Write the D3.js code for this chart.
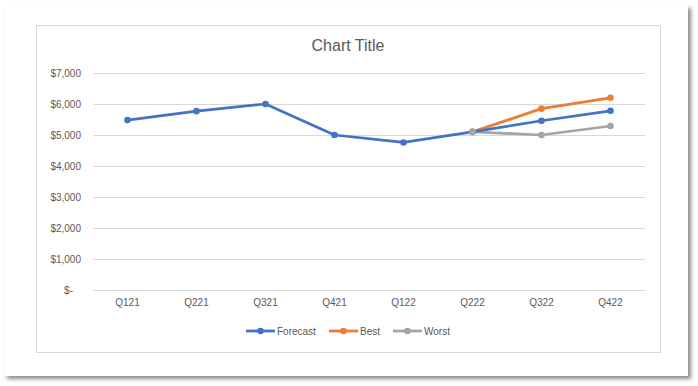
<!DOCTYPE html>
<html>
<head>
<meta charset="utf-8">
<script src="https://cdn.jsdelivr.net/npm/d3@7"></script>
<style>
  body { margin: 0; background: #fff; }
  #card {
    position: absolute; left: 4px; top: 5px; width: 684px; height: 371px;
    background: #fff; box-shadow: 3px 3px 4px rgba(0,0,0,0.45);
  }
  svg { position: absolute; left: 0; top: 0; font-family: "Liberation Sans", Arial, sans-serif; }
</style>
</head>
<body>
<div id="card"></div>
<svg id="chart" width="698" height="386"></svg>
<script>
var quarters = ['Q121', 'Q221', 'Q321', 'Q421', 'Q122', 'Q222', 'Q322', 'Q422'];
var forecast = [5480, 5770, 6000, 5000, 4760, 5100, 5460, 5780];
var best = [null, null, null, null, null, 5100, 5850, 6200];
var worst = [null, null, null, null, null, 5100, 5000, 5290];
var yTicks = [0, 1000, 2000, 3000, 4000, 5000, 6000, 7000];

var series = [
  { name: 'Forecast', values: forecast, color: '#4472c4' },
  { name: 'Best', values: best, color: '#ed7d31' },
  { name: 'Worst', values: worst, color: '#a5a5a5' }
];

var plotLeft = 93, plotRight = 645, plotTop = 73, plotBottom = 290;
var svg = d3.select('#chart');

// inner chart border
svg.append('rect')
  .attr('x', 36.5).attr('y', 25.5)
  .attr('width', 624).attr('height', 327)
  .attr('fill', 'none').attr('stroke', '#d9d9d9');

var xScale = d3.scaleBand().domain(quarters).range([plotLeft, plotRight]);
var yScale = d3.scaleLinear().domain([0, 7000]).range([plotBottom, plotTop]);

var fmt = function(v) { return v === 0 ? '$-' : '$' + d3.format(',')(v); };

var yAxis = d3.axisLeft(yScale)
  .tickValues(yTicks)
  .tickSize(-(plotRight - plotLeft))
  .tickFormat(fmt);

var gy = svg.append('g')
  .attr('transform', 'translate(' + plotLeft + ',0)')
  .call(yAxis);
gy.select('.domain').remove();
gy.selectAll('line').attr('stroke', '#d9d9d9');
gy.selectAll('text')
  .attr('x', -12)
  .attr('fill', '#595959')
  .style('font-size', '10px');
gy.selectAll('.tick').filter(d => d === 0).select('text').attr('x', -20);

var xAxis = d3.axisBottom(xScale).tickSize(0).tickSizeOuter(0);
var gx = svg.append('g')
  .attr('transform', 'translate(0,' + plotBottom + ')')
  .call(xAxis);
gx.select('.domain').attr('stroke', '#d9d9d9');
gx.selectAll('text')
  .attr('dy', '1.3em')
  .attr('fill', '#595959')
  .style('font-size', '10px');

var line = d3.line()
  .defined(d => d != null)
  .x((d, i) => xScale(quarters[i]) + xScale.bandwidth() / 2)
  .y(d => yScale(d));

series.slice().reverse().forEach(function(s) {
  svg.append('path')
    .attr('d', line(s.values))
    .attr('fill', 'none')
    .attr('stroke', s.color)
    .attr('stroke-width', 2.75)
    .attr('stroke-linejoin', 'round');
});
series.forEach(function(s) {
  svg.append('g').selectAll('circle')
    .data(s.values.map((v, i) => ({ v: v, q: quarters[i] })).filter(d => d.v != null))
    .enter()
    .append('circle')
    .attr('cx', d => xScale(d.q) + xScale.bandwidth() / 2)
    .attr('cy', d => yScale(d.v))
    .attr('r', 3.3)
    .attr('fill', s.color);
});

svg.append('text')
  .attr('x', 348)
  .attr('y', 51)
  .attr('text-anchor', 'middle')
  .attr('fill', '#595959')
  .style('font-size', '16px')
  .text('Chart Title');

// legend
var legendX = [246, 329, 393];
var legend = svg.append('g');
series.forEach(function(s, i) {
  var g = legend.append('g').attr('transform', 'translate(' + legendX[i] + ',331)');
  g.append('line').attr('x1', 0).attr('x2', 29)
    .attr('stroke', s.color).attr('stroke-width', 2.75);
  g.append('circle').attr('cx', 14.5).attr('r', 3.3).attr('fill', s.color);
  g.append('text').attr('x', 31).attr('dy', '0.35em')
    .attr('fill', '#595959').style('font-size', '10px').text(s.name);
});
</script>
</body>
</html>
